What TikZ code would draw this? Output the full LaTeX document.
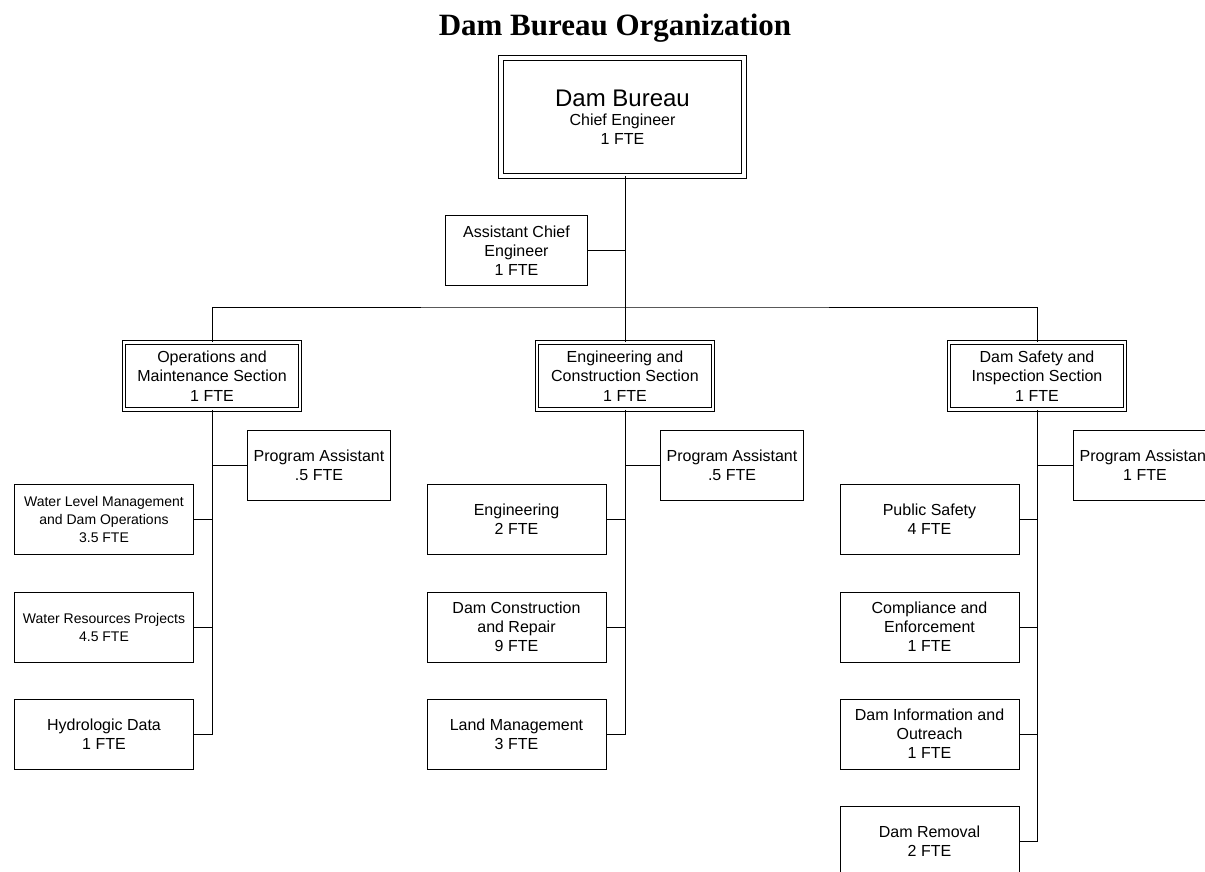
\documentclass[tikz,border=0pt]{standalone}
\usepackage{fontspec}
\setmainfont{Liberation Sans}
\newfontfamily\titlefont{Liberation Serif}
\usetikzlibrary{positioning}
\tikzset{
  orgnode/.style = {align=center, inner sep=0pt, text centered,
    rectangle, draw=black, line width=0.9pt},
  org_top/.style = {orgnode, double, double distance=3.6pt, line width=0.8pt,
    minimum width=243pt, minimum height=118pt, font=\fontsize{16}{19}\selectfont},% bureau
  org_sec/.style = {orgnode, double, double distance=2.6pt, line width=0.8pt,
    minimum width=176pt, minimum height=67pt, font=\fontsize{16}{19.5}\selectfont},% sections
  org_pa/.style = {orgnode, minimum width=143pt, minimum height=70pt,
    font=\fontsize{16}{19}\selectfont},% program assistants
  org_unit/.style = {orgnode, minimum width=179pt, minimum height=70pt,
    font=\fontsize{16}{19}\selectfont},% units
  org_small/.style = {font=\fontsize{14}{18}\selectfont},
  link/.style = {draw=black, line width=0.9pt},
}

\begin{document}
\begin{tikzpicture}[x=1pt, y=-1pt]
\useasboundingbox (0,0) rectangle (1205,872);
\node (title) at (615,28) {\titlefont\bfseries\fontsize{31}{36}\selectfont Dam Bureau Organization};

% bureau
\node [org_top] (bureau) at (622.5,117) {{\fontsize{24}{26}\selectfont Dam Bureau}\\Chief Engineer\\1 FTE};
\node [orgnode, minimum width=142pt, minimum height=70pt, font=\fontsize{16}{19}\selectfont]
  (ace) at (516.5,250.5) {Assistant Chief\\Engineer\\1 FTE};
\coordinate (bus) at (625,307);

% sections
\node [org_sec] (om) at (212,376) {Operations and\\Maintenance Section\\1 FTE};
\node [org_sec] (ec) at (625,376) {Engineering and\\Construction Section\\1 FTE};
\node [org_sec] (ds) at (1037,376) {Dam Safety and\\Inspection Section\\1 FTE};

% operations and maintenance
\node [org_pa] (om_pa) at (319,465) {Program Assistant\\.5 FTE};
\node [org_unit, org_small] (om_wl) at (104,519.5) {Water Level Management\\and Dam Operations\\3.5 FTE};
\node [org_unit, org_small] (om_wr) at (104,627) {Water Resources Projects\\4.5 FTE};
\node [org_unit] (om_hd) at (104,734) {Hydrologic Data\\1 FTE};

% engineering and construction
\node [org_pa] (ec_pa) at (732,465) {Program Assistant\\.5 FTE};
\node [org_unit] (ec_en) at (516.5,519.5) {Engineering\\2 FTE};
\node [org_unit] (ec_dc) at (516.5,627) {Dam Construction\\and Repair\\9 FTE};
\node [org_unit] (ec_lm) at (516.5,734) {Land Management\\3 FTE};

% dam safety and inspection
\node [org_pa] (ds_pa) at (1145,465) {Program Assistant\\1 FTE};
\node [org_unit] (ds_ps) at (929.5,519.5) {Public Safety\\4 FTE};
\node [org_unit] (ds_ce) at (929.5,627) {Compliance and\\Enforcement\\1 FTE};
\node [org_unit] (ds_di) at (929.5,734) {Dam Information and\\Outreach\\1 FTE};
\node [org_unit] (ds_dr) at (929.5,841.5) {Dam Removal\\2 FTE};

% connectors
\draw [link] (bureau.south -| bus) -- (ec.north);
\draw [link] (ace.east) -- (ace.east -| bus);
\draw [link] (om.north) |- (bus) -| (ds.north);

\draw [link] (om.south) |- (om_hd.east);
\draw [link] (om_pa.west) -- (om_pa.west -| om.south);
\draw [link] (om_wl.east) -- (om_wl.east -| om.south);
\draw [link] (om_wr.east) -- (om_wr.east -| om.south);

\draw [link] (ec.south) |- (ec_lm.east);
\draw [link] (ec_pa.west) -- (ec_pa.west -| ec.south);
\draw [link] (ec_en.east) -- (ec_en.east -| ec.south);
\draw [link] (ec_dc.east) -- (ec_dc.east -| ec.south);

\draw [link] (ds.south) |- (ds_dr.east);
\draw [link] (ds_pa.west) -- (ds_pa.west -| ds.south);
\draw [link] (ds_ps.east) -- (ds_ps.east -| ds.south);
\draw [link] (ds_ce.east) -- (ds_ce.east -| ds.south);
\draw [link] (ds_di.east) -- (ds_di.east -| ds.south);
\end{tikzpicture}
\end{document}
